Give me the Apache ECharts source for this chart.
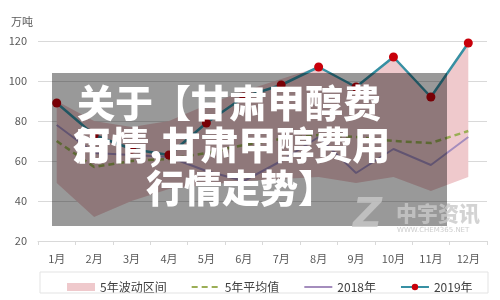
<!DOCTYPE html>
<html><head><meta charset="utf-8">
<script src="https://cdn.jsdelivr.net/npm/echarts@6/dist/echarts.min.js"></script>
<style>html,body{margin:0;padding:0;background:#fff}#c{width:500px;height:300px}</style>
</head><body><div id="c"></div>
<script>
const months = ['1月','2月','3月','4月','5月','6月','7月','8月','9月','10月','11月','12月'];
const bandLower = [49, 32, 40, 46, 48, 50, 51, 52, 49, 52, 45, 52];
const bandUpper = [90, 80, 77, 80, 88, 95, 101, 107, 97, 112, 92, 120];
const avg5 = [70, 57, 60, 61, 64, 68, 71, 73, 72, 70, 69, 75];
const y2018 = [78, 64, 63, 62, 55, 50, 60, 72, 54, 66, 58, 72];
const y2019 = [89, 73, 66, 63, 79, 92, 98, 107, 97, 112, 92, 119];
const yTicks = [20, 40, 60, 80, 100, 120];

const FONT = '"Noto Sans CJK SC","Noto Sans",sans-serif';
const chart = echarts.init(document.getElementById('c'));
const bandDiff = bandUpper.map((v, i) => v - bandLower[i]);

chart.setOption({
  animation: false,
  textStyle: { fontFamily: FONT },
  grid: { left: 38, right: 13, top: 41, bottom: 59 },
  xAxis: {
    type: 'category', data: months, boundaryGap: true,
    axisLine: { lineStyle: { color: '#d9d9d9' } },
    axisTick: { show: true, length: 4, lineStyle: { color: '#d9d9d9' } },
    axisLabel: { color: '#595959', fontSize: 11, margin: 12 }
  },
  yAxis: {
    type: 'value', min: yTicks[0], max: yTicks[yTicks.length - 1], interval: 20,
    name: '万吨', nameLocation: 'end', nameGap: 14,
    nameTextStyle: { color: '#595959', fontSize: 11, align: 'right', padding: [0, 5, 0, 0] },
    axisLine: { show: false }, axisTick: { show: false },
    axisLabel: { color: '#595959', fontSize: 11, margin: 11 },
    splitLine: { lineStyle: { color: '#d9d9d9' } }
  },
  legend: {
    left: 62, top: 276, itemWidth: 28, itemHeight: 8, itemGap: 24,
    textStyle: { color: '#404040', fontSize: 12, fontFamily: FONT },
    data: [
      { name: '5年波动区间', icon: 'rect' },
      { name: '5年平均值', itemStyle: { opacity: 0 } },
      { name: '2018年', itemStyle: { opacity: 0 } },
      { name: '2019年' }
    ]
  },
  series: [
    { name: 'base', type: 'line', stack: 'band', data: bandLower, symbol: 'none',
      lineStyle: { opacity: 0 }, silent: true },
    { name: '5年波动区间', type: 'line', stack: 'band', data: bandDiff, symbol: 'none',
      lineStyle: { opacity: 0 }, itemStyle: { color: '#efc9cc' },
      areaStyle: { color: '#efc9cc', opacity: 1 } },
    { name: '5年平均值', type: 'line', data: avg5, symbol: 'none',
      itemStyle: { color: '#9bae55' },
      lineStyle: { color: '#9bae55', width: 2.5, type: [6, 4] } },
    { name: '2018年', type: 'line', data: y2018, symbol: 'none',
      itemStyle: { color: '#a48dbd' },
      lineStyle: { color: '#a48dbd', width: 2 } },
    { name: '2019年', type: 'line', data: y2019, symbol: 'circle', symbolSize: 9,
      itemStyle: { color: '#c8000a' },
      lineStyle: { color: '#3790a3', width: 2.5 } }
  ],
  graphic: [
    { type: 'rect', z: 100, shape: { x: 40, y: 272, width: 448, height: 21 },
      style: { fill: 'none', stroke: '#e3e3e3', lineWidth: 1 } },
    { type: 'rect', z: 100, shape: { x: 52, y: 73, width: 395, height: 153 },
      style: { fill: 'rgba(0,0,0,0.4)' } },
    { type: 'text', z: 101, x: 77, y: 103,
      style: { text: '关于【甘肃甲醇费', fill: '#fff', font: '900 38px ' + FONT, textVerticalAlign: 'middle' } },
    { type: 'text', z: 101, x: 73, y: 145,
      style: { text: '用', fill: '#fff', font: '900 38px ' + FONT, textVerticalAlign: 'middle' } },
    { type: 'text', z: 101, x: 73, y: 145,
      style: { text: '行情,甘肃甲醇费用', fill: '#fff', font: '900 38px ' + FONT, textVerticalAlign: 'middle' } },
    { type: 'text', z: 101, x: 146, y: 188,
      style: { text: '行情走势】', fill: '#fff', font: '900 38px ' + FONT, textVerticalAlign: 'middle' } },
    { type: 'text', z: 102, x: 353, y: 217,
      style: { text: 'Z', fill: 'rgba(200,200,200,0.8)', font: 'italic 900 40px "DejaVu Sans", sans-serif', textVerticalAlign: 'middle' } },
    { type: 'text', z: 102, x: 396, y: 213,
      style: { text: '中宇资讯', fill: 'rgba(200,200,200,0.8)', font: '900 21px ' + FONT, textVerticalAlign: 'middle' } },
    { type: 'text', z: 102, x: 397, y: 230,
      style: { text: 'WWW.CHEM365.NET', fill: 'rgba(200,200,200,0.9)', font: '7px "DejaVu Sans", sans-serif', textVerticalAlign: 'middle' } }
  ]
});
</script></body></html>
